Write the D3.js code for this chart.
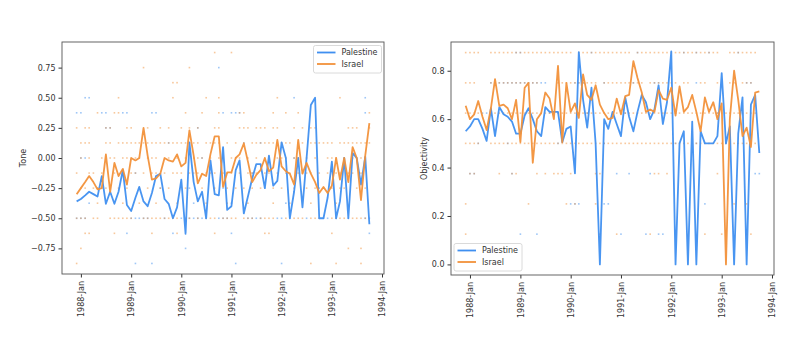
<!DOCTYPE html>
<html>
<head>
<meta charset="utf-8">
<script src="https://cdn.jsdelivr.net/npm/d3@7"></script>
<style>
  body { margin: 0; background: #fff; }
  text { font-family: "DejaVu Sans", sans-serif; }
</style>
</head>
<body>
<svg id="chart" width="800" height="338"></svg>
<script>
// monthly means, Dec 1987 .. Oct 1993 (71 months)
var startMonth = new Date(1987, 11, 1);
var seriesNames = ["Palestine", "Israel"];
var yearTicks = [1988, 1989, 1990, 1991, 1992, 1993, 1994];

var palTone = [-0.36,-0.34,-0.31,-0.28,-0.30,-0.32,-0.15,-0.38,-0.28,-0.38,-0.28,-0.10,-0.39,-0.44,-0.33,-0.24,
  -0.36,-0.40,-0.29,-0.15,-0.13,-0.34,-0.38,-0.50,-0.41,-0.18,-0.63,0.13,-0.20,-0.36,-0.28,-0.50,-0.02,-0.30,
  -0.31,0.09,-0.43,-0.40,-0.10,-0.02,-0.46,-0.32,-0.17,-0.05,-0.05,-0.25,0.02,-0.23,-0.19,0.13,0.00,-0.50,
  -0.28,0.00,-0.41,0.00,0.44,0.50,-0.50,-0.50,-0.33,-0.03,-0.50,-0.36,0.00,-0.50,0.04,0.00,-0.22,0.01,-0.55];

var isrTone = [-0.30,-0.25,-0.20,-0.15,-0.20,-0.26,-0.25,0.03,-0.28,-0.04,-0.15,-0.09,-0.22,0.00,-0.02,0.00,
  0.25,0.02,-0.18,-0.17,-0.13,0.00,-0.02,-0.03,0.03,-0.07,-0.04,0.23,0.02,-0.21,-0.13,-0.15,0.03,0.18,0.18,
  -0.24,-0.12,-0.12,0.00,0.03,0.12,-0.03,-0.20,-0.14,-0.10,0.00,-0.11,-0.08,0.15,-0.07,-0.11,-0.13,-0.22,0.15,
  -0.13,-0.04,-0.13,-0.20,-0.29,-0.24,-0.29,-0.23,0.00,-0.18,0.00,-0.20,0.09,0.00,-0.35,0.02,0.29];

var palObj = [0.55,0.57,0.60,0.60,0.56,0.51,0.645,0.53,0.65,0.62,0.61,0.59,0.54,0.54,0.615,0.645,0.60,0.55,
  0.53,0.65,0.63,0.63,0.63,0.505,0.56,0.57,0.376,0.877,0.68,0.565,0.73,0.50,0.00,0.60,0.56,0.63,0.58,0.53,
  0.69,0.61,0.55,0.63,0.70,0.67,0.60,0.64,0.74,0.58,0.67,0.88,0.00,0.50,0.55,0.00,0.59,0.00,0.55,0.50,0.50,
  0.50,0.53,0.79,0.50,0.57,0.00,0.54,0.69,0.00,0.66,0.70,0.46];

var isrObj = [0.655,0.60,0.62,0.675,0.61,0.555,0.645,0.765,0.655,0.66,0.645,0.60,0.68,0.505,0.73,0.75,0.42,
  0.60,0.625,0.71,0.685,0.60,0.82,0.505,0.75,0.63,0.665,0.605,0.785,0.70,0.68,0.74,0.66,0.625,0.60,0.605,
  0.685,0.62,0.695,0.70,0.84,0.77,0.71,0.63,0.64,0.63,0.72,0.685,0.68,0.73,0.615,0.735,0.63,0.65,0.70,0.63,
  0.55,0.69,0.63,0.67,0.60,0.665,0.00,0.60,0.80,0.68,0.53,0.565,0.485,0.71,0.715];

// single article scores: [level, month indexes]
var palToneDots = [
  [0.75,[34]], [0.5,[2,3,52,69]], [0.375,[0,1,6,7,11,12,18,19,35,37,38,39,69]], [0.25,[7,8,29]],
  [0.125,[22,40,44]], [0,[1,2,30,52]], [-0.125,[14,42]], [-0.25,[5,6,20,27,35,45,58]],
  [-0.375,[3,28,37,50]],
  [-0.5,[0,1,2,13,14,15,16,17,21,25,27,28,29,30,31,34,35,36,41,42,43,44,48,49,51,55,58,59,60,62,65,69,70]],
  [-0.625,[12,23,37,70]], [-0.75,[26]], [-0.875,[14,18,38,49]]
];
var isrToneDots = [
  [0.875,[33,37]], [0.75,[16,27]], [0.625,[23,24]], [0.5,[10,23,31,34,48,63]],
  [0.375,[5,9,10,26,30,34,39,40,47,50,53,70]],
  [0.25,[0,2,3,7,8,12,13,17,20,22,25,27,29,33,34,39,40,41,43,44,45,47,48,52,54,56,57,65,66,67,70]],
  [0.125,[1,2,3,7,8,10,11,12,13,14,15,16,17,18,19,20,21,22,23,24,25,26,27,28,29,31,32,33,34,36,38,40,42,43,
    44,45,46,47,48,49,50,51,53,54,56,57,58,59,60,61,63,64,65,66,67,68,69,70]],
  [0,[1,3,6,8,9,11,12,14,15,17,18,19,22,24,26,28,29,30,32,34,35,37,38,39,41,43,45,46,48,49,50,52,53,55,57,
    60,61,62,64,66,67,68,69]],
  [-0.125,[0,3,4,6,9,11,13,14,16,18,19,21,23,24,25,27,28,29,31,32,33,35,36,37,39,41,42,43,45,46,48,50,51,53,
    54,55,56,58,60,62,63,65,66,68]],
  [-0.25,[1,2,4,5,7,8,10,12,15,17,20,22,26,30,33,36,38,40,42,44,47,49,52,55,57,59,61,63,64,67,69]],
  [-0.375,[5,11,15,19,24,31,36,41,47,51,56,62]],
  [-0.5,[0,1,2,4,5,8,9,10,11,12,13,16,17,18,19,20,21,22,23,24,26,27,29,31,32,33,35,36,37,38,40,41,42,44,45,
    46,47,50,52,53,54,56,57,58,61,62,63,64,66,67,68,69]],
  [-0.625,[2,3,9,18,24,33,45,46,61]], [-0.75,[1,65,68]], [-0.875,[0,56,62,68]]
];
var palObjDots = [
  [0.875,[12,13,30,41,52,55,58,65]],
  [0.75,[6,7,8,9,10,11,12,13,14,15,16,17,18,19,26,27,28,33,40,45,46,55,67,68]],
  [0.625,[4,5,20,29,38,50,60]], [0.5,[3,10,22,33,50,55,62]], [0.375,[1,2,11,36,39,44,69,70]],
  [0.25,[25,26,27,33,34,57]], [0.125,[13,17,37,43,46,47]]
];
var isrObjDots = [
  [0.875,[0,1,2,3,6,7,8,9,10,11,12,13,14,15,16,17,18,19,20,21,22,23,24,25,27,28,29,30,31,32,33,34,35,36,37,
    38,39,41,42,43,44,45,46,47,48,49,50,51,52,53,54,55,56,57,58,59,60,63,64,65,66,67,68,69]],
  [0.75,[0,1,2,6,7,8,9,10,11,12,13,14,15,16,17,22,23,24,25,26,27,28,29,30,31,33,34,35,36,37,38,39,40,41,42,
    44,45,46,47,48,49,50,52,53,56,57,60,63,64,66,67,68]],
  [0.625,[0,1,2,3,6,7,8,9,10,11,12,13,14,15,16,17,18,19,20,21,22,23,24,25,26,27,28,29,30,31,32,33,34,35,36,
    37,38,39,40,41,42,43,44,45,46,47,48,49,50,51,52,53,54,55,56,57,58,59,60,61,62,63,64,65,66,67,68,69]],
  [0.5,[0,1,2,3,6,7,8,9,10,11,12,13,14,15,16,17,18,19,20,21,22,23,24,25,26,27,28,29,30,31,32,33,34,35,36,
    37,38,39,40,41,42,43,44,45,46,47,48,49,50,51,52,53,54,55,56,57,58,59,60,61,62,63,64,65,66,67,68,69]],
  [0.375,[1,2,8,11,12,17,19,21,22,23,25,31,32,45,46,48,60]],
  [0.25,[0,15,24,26,31,64,67]], [0.125,[0,32,36,44,57,61,67,68]]
];

var colors = ["#3f8ff0", "#f2913a"];

var svg = d3.select("#chart");
svg.append("rect").attr("width", 800).attr("height", 338).attr("fill", "#fff");

function monthDate(i) {
    return new Date(startMonth.getFullYear(), startMonth.getMonth() + i, 1);
}

function drawPanel(p) {
    var n = p.lines[0].length;
    var t0 = monthDate(0), t1 = monthDate(n - 1);
    var pad = (t1 - t0) * 0.05;
    var x = d3.scaleTime().domain([new Date(+t0 - pad), new Date(+t1 + pad)]).range([p.left, p.right]);
    var y = d3.scaleLinear().domain(p.ydomain).range([p.bottom, p.top]);

    var g = svg.append("g");

    // dots
    p.dots.forEach(function (set, k) {
        var pts = [];
        set.forEach(function (row) {
            row[1].forEach(function (m) { pts.push([m, row[0]]); });
        });
        g.append("g").selectAll("rect").data(pts).join("rect")
            .attr("x", function (d) { return x(monthDate(d[0])) - 0.8; })
            .attr("y", function (d) { return y(d[1]) - 0.8; })
            .attr("width", 1.6).attr("height", 1.6)
            .attr("fill", colors[k]).attr("opacity", 0.5);
    });

    // lines
    var line = d3.line()
        .x(function (d, i) { return x(monthDate(i)); })
        .y(function (d) { return y(d); });
    p.lines.forEach(function (vals, k) {
        g.append("path").datum(vals)
            .attr("d", line)
            .attr("fill", "none")
            .attr("stroke", colors[k])
            .attr("stroke-width", 1.8)
            .attr("stroke-linejoin", "round")
            .attr("opacity", 0.95);
    });

    // axes
    var xa = g.append("g").attr("transform", "translate(0," + p.bottom + ")")
        .call(d3.axisBottom(x)
            .tickValues(yearTicks.map(function (yr) { return new Date(yr, 0, 1); }))
            .tickFormat(d3.timeFormat("%Y-%b"))
            .tickSize(3.5));
    xa.select(".domain").remove();
    xa.selectAll("line").attr("stroke", "#333");
    xa.selectAll("text")
        .attr("transform", "rotate(-90)")
        .attr("x", -7).attr("y", 0).attr("dy", "0.35em")
        .attr("text-anchor", "end")
        .attr("fill", "#333").style("font-size", "8px");

    var ya = g.append("g").attr("transform", "translate(" + p.left + ",0)")
        .call(d3.axisLeft(y).tickValues(p.yticks).tickFormat(d3.format(p.yfmt)).tickSize(3.5).tickPadding(3));
    ya.select(".domain").remove();
    ya.selectAll("line").attr("stroke", "#333");
    ya.selectAll("text").attr("fill", "#333").style("font-size", "8px");

    g.append("text")
        .attr("transform", "translate(" + p.labelX + "," + ((p.top + p.bottom) / 2) + ") rotate(-90)")
        .attr("text-anchor", "middle").attr("dy", "0.35em")
        .attr("fill", "#333").style("font-size", "8px")
        .text(p.label);

    // frame
    g.append("rect")
        .attr("x", p.left).attr("y", p.top)
        .attr("width", p.right - p.left).attr("height", p.bottom - p.top)
        .attr("fill", "none").attr("stroke", "#555").attr("stroke-width", 0.9);

    // legend
    var lg = g.append("g").attr("transform", "translate(" + p.legend[0] + "," + p.legend[1] + ")");
    lg.append("rect").attr("width", 68).attr("height", 27.5).attr("rx", 2)
        .attr("fill", "#fff").attr("fill-opacity", 0.8)
        .attr("stroke", "#d0d0d0").attr("stroke-width", 0.8);
    seriesNames.forEach(function (name, k) {
        var ly = 7 + k * 11.5;
        lg.append("line").attr("x1", 3.5).attr("x2", 22).attr("y1", ly).attr("y2", ly)
            .attr("stroke", colors[k]).attr("stroke-width", 1.8);
        lg.append("text").attr("x", 28).attr("y", ly).attr("dy", "0.35em")
            .attr("fill", "#333").style("font-size", "8px").text(name);
    });
}

drawPanel({
    left: 62, right: 384, top: 42, bottom: 274,
    ydomain: [-0.9625, 0.9625], yticks: [-0.75, -0.5, -0.25, 0, 0.25, 0.5, 0.75], yfmt: ".2f",
    label: "Tone", labelX: 23,
    lines: [palTone, isrTone], dots: [palToneDots, isrToneDots],
    legend: [313.5, 45.5]
});

drawPanel({
    left: 451, right: 774, top: 42, bottom: 275,
    ydomain: [-0.04375, 0.91875], yticks: [0, 0.2, 0.4, 0.6, 0.8], yfmt: ".1f",
    label: "Objectivity", labelX: 424,
    lines: [palObj, isrObj], dots: [palObjDots, isrObjDots],
    legend: [454, 243.5]
});
</script>
</body>
</html>
